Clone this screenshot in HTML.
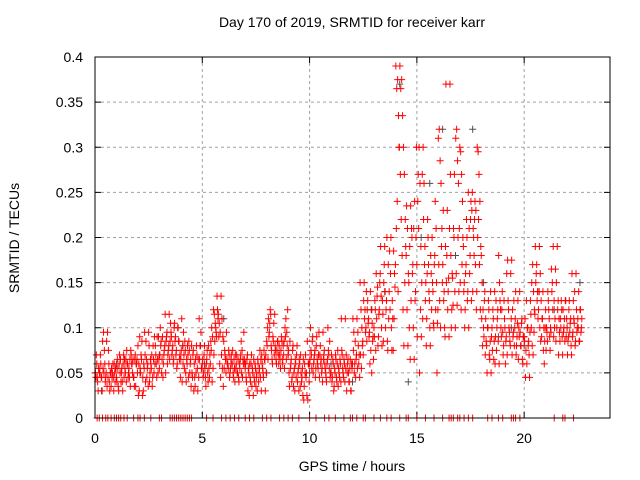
<!DOCTYPE html>
<html><head><meta charset="utf-8"><style>
body{margin:0;background:#fff}
svg{display:block;font-family:"Liberation Sans",sans-serif}
</style></head><body>
<svg id="chart" width="640" height="480" viewBox="0 0 640 480">
<rect width="640" height="480" fill="#fff"/>
<text x="352" y="27" font-size="14" text-anchor="middle">Day 170 of 2019, SRMTID for receiver karr</text>
<text transform="translate(19,238) rotate(-90)" font-size="14" text-anchor="middle">SRMTID / TECUs</text>
<text x="352" y="471" font-size="14" text-anchor="middle">GPS time / hours</text>
<g id="grid"></g>
<g id="ticks"></g>
<g id="gray"></g>
<g id="red"></g>
<rect x="95" y="57" width="515" height="361" fill="none" stroke="#000" stroke-width="1"/>
</svg>
<script>
const xTicks=[0,5,10,15,20];
const yTicks=[0,0.05,0.1,0.15,0.2,0.25,0.3,0.35,0.4];
const yTickLabels=["0","0.05","0.1","0.15","0.2","0.25","0.3","0.35","0.4"];
const hours=[0,1,2,3,4,5,6,7,8,9,10,11,12,13,14,15,16,17,18,19,20,21,22];
const redByHour=[
[0.05,0.045,0.06,0.04,0.055,0.05,0.07,0.045,0.03,0.055,0.05,0.06,0.045,0.085,0.095,0.075,0.04,0.05,0.035,0.045,0.06,0.03,0.05,0.055],
[0.045,0.065,0.035,0.06,0.05,0.04,0.055,0.03,0.07,0.065,0.05,0.04,0.06,0.045,0.055,0.065,0.075,0.06,0.05,0.045,0.035,0.07,0.06,0.065],
[0.08,0.06,0.09,0.05,0.065,0.025,0.03,0.055,0.07,0.085,0.045,0.06,0.095,0.04,0.065,0.055,0.035,0.08,0.05,0.06,0.07,0.045,0.065,0.09],
[0.055,0.1,0.085,0.065,0.045,0.07,0.08,0.05,0.09,0.06,0.075,0.115,0.085,0.095,0.07,0.08,0.065,0.105,0.09,0.075,0.06,0.1,0.085,0.07],
[0.065,0.11,0.08,0.095,0.055,0.075,0.04,0.06,0.07,0.085,0.05,0.065,0.08,0.045,0.075,0.06,0.035,0.05,0.07,0.03,0.045,0.065,0.08,0.055],
[0.06,0.045,0.07,0.055,0.035,0.065,0.05,0.08,0.045,0.06,0.075,0.04,0.055,0.07,0.085,0.1,0.09,0.12,0.115,0.105,0.095,0.135,0.11,0.09],
[0.085,0.075,0.065,0.095,0.06,0.055,0.07,0.05,0.065,0.06,0.075,0.045,0.055,0.07,0.06,0.05,0.065,0.04,0.055,0.07,0.05,0.045,0.06,0.065],
[0.055,0.045,0.065,0.03,0.05,0.06,0.04,0.07,0.055,0.025,0.045,0.06,0.035,0.05,0.065,0.04,0.055,0.045,0.03,0.06,0.05,0.075,0.065,0.07],
[0.085,0.1,0.11,0.095,0.12,0.08,0.065,0.09,0.105,0.115,0.075,0.06,0.085,0.07,0.08,0.065,0.075,0.085,0.06,0.07,0.055,0.09,0.065,0.08],
[0.07,0.05,0.085,0.06,0.04,0.075,0.035,0.055,0.065,0.045,0.08,0.05,0.03,0.06,0.07,0.04,0.055,0.065,0.035,0.05,0.045,0.025,0.02,0.06],
[0.06,0.1,0.07,0.085,0.05,0.065,0.075,0.055,0.09,0.06,0.07,0.045,0.08,0.065,0.055,0.095,0.07,0.06,0.05,0.04,0.065,0.075,0.055,0.045],
[0.05,0.04,0.065,0.03,0.055,0.07,0.045,0.06,0.035,0.05,0.065,0.04,0.075,0.055,0.045,0.06,0.11,0.07,0.05,0.065,0.04,0.055,0.03,0.06],
[0.06,0.075,0.05,0.085,0.065,0.11,0.095,0.06,0.045,0.07,0.055,0.08,0.07,0.15,0.12,0.1,0.085,0.13,0.11,0.095,0.14,0.12,0.105,0.09],
[0.1,0.13,0.075,0.11,0.145,0.09,0.12,0.16,0.135,0.08,0.115,0.15,0.19,0.1,0.13,0.085,0.17,0.14,0.12,0.2,0.075,0.11,0.185,0.16],
[0.17,0.21,0.24,0.14,0.3,0.39,0.365,0.375,0.335,0.3,0.27,0.22,0.18,0.12,0.08,0.15,0.19,0.235,0.21,0.16,0.1,0.065,0.13,0.2],
[0.17,0.24,0.21,0.05,0.12,0.09,0.27,0.3,0.26,0.19,0.15,0.11,0.22,0.17,0.13,0.08,0.16,0.2,0.14,0.1,0.18,0.12,0.15,0.105],
[0.31,0.32,0.285,0.26,0.21,0.17,0.13,0.1,0.19,0.15,0.23,0.14,0.09,0.37,0.18,0.12,0.155,0.21,0.27,0.1,0.16,0.125,0.2,0.14],
[0.3,0.295,0.27,0.24,0.19,0.15,0.12,0.17,0.2,0.14,0.1,0.16,0.22,0.13,0.25,0.21,0.18,0.24,0.23,0.14,0.2,0.22,0.17,0.12],
[0.18,0.15,0.12,0.09,0.14,0.11,0.08,0.1,0.13,0.07,0.085,0.05,0.1,0.12,0.065,0.14,0.09,0.075,0.11,0.085,0.06,0.13,0.1,0.12],
[0.095,0.08,0.11,0.06,0.09,0.07,0.13,0.1,0.085,0.16,0.175,0.12,0.095,0.08,0.11,0.07,0.09,0.13,0.1,0.14,0.08,0.105,0.065,0.09],
[0.09,0.11,0.075,0.06,0.1,0.085,0.045,0.13,0.1,0.08,0.07,0.095,0.115,0.15,0.17,0.14,0.12,0.19,0.16,0.13,0.11,0.14,0.1,0.085],
[0.12,0.1,0.085,0.13,0.11,0.075,0.095,0.14,0.12,0.09,0.1,0.165,0.15,0.19,0.13,0.11,0.085,0.1,0.12,0.07,0.095,0.11,0.13,0.09],
[0.1,0.085,0.12,0.095,0.11,0.07,0.09,0.13,0.105,0.08,0.16,0.095,0.11,0.14,0.085,0.12,0.1]
];
const grayT=[0.3,1.0,2.1,3.0,4.1,5.1,6.0,7.0,8.0,9.0,10.0,11.0,12.0,12.9,13.5,14.2,14.6,15.2,15.6,16.2,16.8,17.6,18.1,18.8,19.4,20.0,20.7,21.4,22.0,22.6];
const grayV=[0.03,0.06,0.05,0.07,0.08,0.06,0.11,0.06,0.05,0.07,0.05,0.06,0.04,0.12,0.14,0.37,0.04,0.2,0.26,0.32,0.18,0.32,0.15,0.09,0.1,0.08,0.14,0.12,0.1,0.15];
const zeroT=[0.1,0.2,0.35,0.5,0.6,0.75,0.9,1.0,1.1,1.2,1.35,1.5,1.8,2.0,2.1,2.3,2.6,3.0,3.1,3.5,3.6,3.7,3.8,3.9,4.0,4.1,4.2,4.3,4.4,4.5,5.2,5.5,5.9,6.1,6.3,6.5,6.7,7.0,7.2,7.4,7.8,8.0,8.2,8.6,8.8,9.0,9.2,9.5,10.0,10.3,10.7,10.9,11.2,11.6,11.9,12.0,12.2,12.5,12.6,13.0,13.3,13.6,13.8,14.2,14.5,14.6,15.0,15.4,15.8,16.2,16.5,16.6,16.7,16.9,17.0,17.2,17.4,17.6,18.3,18.5,18.8,19.0,19.4,19.5,19.6,19.8,21.4,21.8,21.9,22.3];
const NS='http://www.w3.org/2000/svg';
const xS=t=>95+t*515/24;
const yS=v=>418-v*902.5;
function mk(tag,attrs,parent){const e=document.createElementNS(NS,tag);for(const k in attrs)e.setAttribute(k,attrs[k]);parent.appendChild(e);return e;}
const grid=document.getElementById('grid'),ticks=document.getElementById('ticks');
xTicks.forEach(t=>{
 const x=xS(t);
 if(t>0){const g=mk('line',{x1:x,x2:x,y1:57,y2:418,stroke:'#a0a0a0','stroke-dasharray':'3,3'},grid);
 
 }
 mk('line',{x1:x,x2:x,y1:418,y2:412,stroke:'#000'},ticks);
 mk('line',{x1:x,x2:x,y1:57,y2:63,stroke:'#000'},ticks);
 const l=mk('text',{x:x,y:443,'font-size':14,'text-anchor':'middle'},ticks);l.textContent=t;
 
 
});
yTicks.forEach((v,i)=>{
 const y=yS(v);
 if(v>0&&v<0.4){const g=mk('line',{x1:95,x2:610,y1:y,y2:y,stroke:'#a0a0a0','stroke-dasharray':'3,3'},grid);
 
 }
 mk('line',{x1:95,x2:101,y1:y,y2:y,stroke:'#000'},ticks);
 mk('line',{x1:610,x2:604,y1:y,y2:y,stroke:'#000'},ticks);
 const l=mk('text',{x:83,y:y+5,'font-size':14,'text-anchor':'end'},ticks);l.textContent=yTickLabels[i];
 
 
});
function plus(g,t,v,c){
 const x=xS(t),y=yS(v);
 const p=mk('path',{d:`M${x-3.5},${y}h7M${x},${y-3.5}v7`,stroke:c,'stroke-width':1,fill:'none'},g);
 
 
}
const gg=document.getElementById('gray'),rg=document.getElementById('red');
grayT.forEach((t,i)=>plus(gg,t,grayV[i],'#505050'));
hours.forEach((h,hi)=>{
 const vals=redByHour[hi];
 vals.forEach((v,i)=>{
  plus(rg,h+i/24,v,'#ff0000');
  const j=(i+5)%vals.length;
  plus(rg,h+i/24+0.02,vals[j],'#ff0000');
 });
});
zeroT.forEach(t=>plus(rg,t,0,'#ff0000'));
</script>
</body></html>
